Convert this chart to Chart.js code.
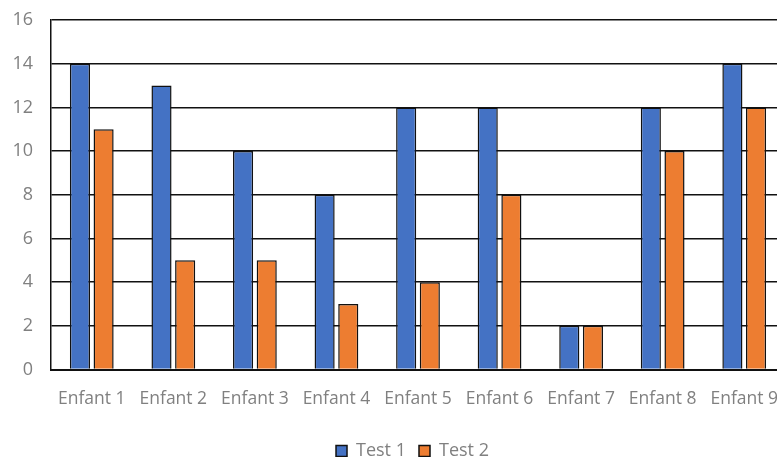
<!DOCTYPE html>
<html>
<head>
<meta charset="utf-8">
<script src="https://cdn.jsdelivr.net/npm/chart.js@4/dist/chart.umd.min.js"></script>
<style>
  html, body { margin: 0; padding: 0; background: #fff; overflow: hidden; }
  #wrap { width: 816px; height: 457px; position: relative; }
</style>
</head>
<body>
<div id="wrap"><canvas id="myChart"></canvas></div>
<script>
'use strict';

// ****Data****
let categories = ['Enfant 1', 'Enfant 2', 'Enfant 3', 'Enfant 4', 'Enfant 5', 'Enfant 6', 'Enfant 7', 'Enfant 8', 'Enfant 9'];
let test1 = [14, 13, 10, 8, 12, 12, 2, 12, 14];
let test2 = [11, 5, 5, 3, 4, 8, 2, 10, 12];
let yTicks = [0, 2, 4, 6, 8, 10, 12, 14, 16];

const ctx = document.getElementById('myChart').getContext('2d');
const fontFamily = '"Open Sans", "Liberation Sans", sans-serif';

// legend sits a little right of the plot centre in the original
const legendShift = {
  id: 'legendShift',
  afterLayout(chart) {
    chart.legend.left += 20;
    chart.legend.right += 20;
  }
};

new Chart(ctx, {
  type: 'bar',
  data: {
    labels: categories,
    datasets: [
      {
        label: 'Test 1',
        data: test1,
        backgroundColor: '#4472C4',
        borderColor: '#111',
        borderWidth: 1.5,
        categoryPercentage: 0.58,
        barPercentage: 0.85
      },
      {
        label: 'Test 2',
        data: test2,
        backgroundColor: '#ED7D31',
        borderColor: '#111',
        borderWidth: 1.5,
        categoryPercentage: 0.58,
        barPercentage: 0.85
      }
    ]
  },
  plugins: [legendShift],
  options: {
    responsive: true,
    maintainAspectRatio: false,
    animation: false,
    layout: { padding: { top: 20, right: 31, left: 0, bottom: -2 } },
    plugins: {
      tooltip: { enabled: false },
      legend: {
        position: 'bottom',
        maxHeight: 30,
        labels: {
          boxWidth: 11,
          boxHeight: 11,
          padding: 13,
          color: '#808080',
          font: { family: fontFamily, size: 18 }
        }
      }
    },
    scales: {
      x: {
        grid: { display: false, drawTicks: false },
        border: { display: true, color: '#111', width: 2 },
        ticks: {
          color: '#808080',
          padding: 21,
          maxRotation: 0,
          font: { family: fontFamily, size: 17.5, lineHeight: 1 }
        }
      },
      y: {
        min: 0,
        max: 16,
        afterBuildTicks: function (axis) {
          axis.ticks = yTicks.map(function (v) { return { value: v }; });
        },
        afterFit: function (axis) {
          axis.width = 51;
          axis.paddingTop = 0;
          axis.paddingBottom = 0;
        },
        grid: { color: '#111', lineWidth: 1.5, drawTicks: false },
        border: { display: true, color: '#111', width: 1.5 },
        ticks: {
          color: '#808080',
          padding: 18,
          font: { family: fontFamily, size: 18 }
        }
      }
    }
  }
});
</script>
</body>
</html>
